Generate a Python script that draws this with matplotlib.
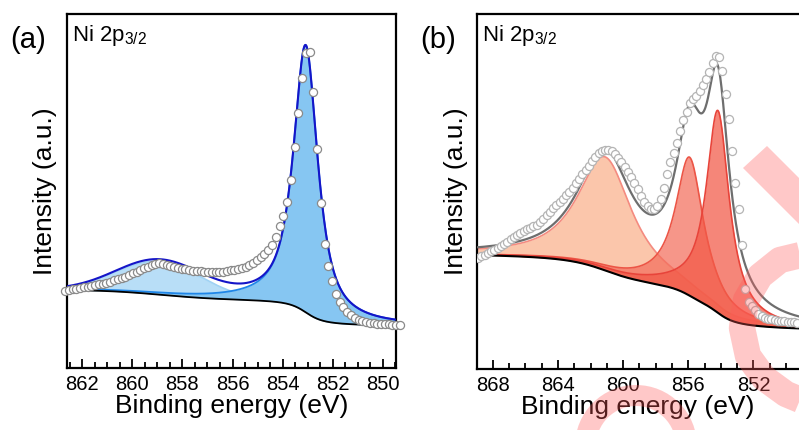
import numpy as np
import matplotlib
matplotlib.use("Agg")
import matplotlib.pyplot as plt
from matplotlib.patches import Wedge, Polygon
from matplotlib.lines import Line2D
from matplotlib.transforms import IdentityTransform

plt.rcParams['font.family'] = ['Liberation Sans', 'DejaVu Sans']
plt.rcParams['mathtext.fontset'] = 'custom'
plt.rcParams['mathtext.rm'] = 'Liberation Sans'
plt.rcParams['mathtext.it'] = 'Liberation Sans:italic'

# ---- panel (a): measured Ni 2p3/2 spectrum ----
be_a = np.linspace(862.675, 849.325, 90)
counts_a = [21.8, 22.0, 22.2, 22.4, 22.6, 22.8, 23.0, 23.1, 23.4, 23.6,
            23.8, 24.1, 24.4, 24.8, 25.1, 25.5, 25.8, 26.2, 26.7, 27.2,
            27.7, 28.2, 28.6, 29.0, 29.3, 29.6, 29.5, 29.2, 28.9, 28.6,
            28.3, 28.1, 27.9, 27.7, 27.5, 27.4, 27.3, 27.2, 27.2, 27.1,
            27.1, 27.1, 27.2, 27.3, 27.6, 27.8, 28.0, 28.3, 28.6, 29.1,
            29.7, 30.4, 31.3, 32.3, 33.4, 34.8, 37.0, 40.0, 43.0, 46.8,
            53.0, 62.5, 72.0, 82.0, 88.9, 89.2, 78.0, 62.0, 46.5, 35.0,
            28.8, 24.5, 20.8, 18.6, 17.2, 15.9, 14.9, 14.1, 13.6, 13.2,
            12.9, 12.7, 12.6, 12.5, 12.4, 12.3, 12.3, 12.2, 12.2, 12.1]

# fitted peaks: (centre eV, height, FWHM eV, lorentz fraction)
main_a = (853.08, 75.5, 1.16, 0.85)
sat_a = (858.9, 9.4, 4.0, 0.0)
bg_a = (12.0, 22.0)          # shirley end levels (low BE, high BE)

# ---- panel (b) ----
be_b = np.linspace(868.9, 849.3, 99)
counts_b = [31.4, 31.8, 32.2, 32.6, 33.1, 33.6, 34.1, 34.6, 35.2, 35.8,
            36.5, 37.3, 37.8, 38.4, 38.9, 39.3, 39.8, 40.2, 40.6, 41.4,
            42.3, 43.3, 44.3, 45.3, 46.2, 47.1, 48.0, 49.0, 49.9, 51.1,
            52.3, 53.6, 54.9, 56.0, 57.2, 58.5, 59.8, 60.8, 61.5, 61.8,
            61.7, 61.3, 60.5, 59.4, 58.2, 56.8, 55.4, 54.0, 52.3, 50.6,
            48.8, 47.0, 45.8, 45.1, 45.2, 46.0, 47.8, 51.0, 55.0, 58.3,
            60.8, 63.6, 67.0, 70.0, 72.5, 74.8, 76.0, 76.8, 78.2, 80.0,
            81.6, 83.6, 86.1, 88.2, 87.8, 84.0, 77.5, 70.5, 61.5, 52.5,
            45.0, 35.0, 22.5, 19.0, 17.7, 16.5, 15.4, 14.9, 14.5, 14.2,
            14.0, 13.8, 13.6, 13.5, 13.4, 13.3, 13.2, 13.1, 13.0]

p1_b = (854.18, 57.0, 1.72, 1.0)
p2_b = (855.92, 39.0, 2.1, 1.0)
p3_b = (861.1, 32.0, 4.0, 0.9)
bg_b = (11.4, 32.1)


def pseudo_voigt(x, centre, height, fwhm, eta):
    d = (x - centre) / fwhm
    lor = 1.0 / (1.0 + 4.0 * d**2)
    gau = np.exp(-4.0 * np.log(2) * d**2)
    return height * (eta * lor + (1 - eta) * gau)


def shirley(x, comps, levels):
    # x runs from high to low binding energy
    total = np.sum(comps, axis=0)
    cum = np.cumsum(total[::-1])[::-1]
    cum = cum - cum[-1]
    lo, hi = levels
    return lo + (hi - lo) * cum / cum[0]


def style_axes(ax, xlim, majors, minor):
    ax.set_yticks([])
    ax.set_xticks(majors)
    ax.set_xticks(np.arange(848, 870.01, minor), minor=True)
    ax.set_xlim(*xlim)
    ax.set_ylim(0, 100)
    ax.tick_params(axis='x', which='major', direction='in', length=6.5, width=1.3,
                   labelsize=14.5, pad=5)
    ax.tick_params(axis='x', which='minor', direction='in', length=4, width=1.3)
    for s in ax.spines.values():
        s.set_linewidth(1.6)
    ax.set_xlabel('Binding energy (eV)', fontsize=19, labelpad=0)
    ax.set_ylabel('Intensity (a.u.)', fontsize=19, labelpad=7)
    ax.text(0.015, 0.975, r'Ni 2p$_{\mathrm{3/2}}$', transform=ax.transAxes,
            fontsize=16, va='top', ha='left')


fig = plt.figure(figsize=(7.99, 4.30), dpi=100)

# ---------- (a) ----------
ax1 = fig.add_axes([67 / 799, 62 / 430, 329 / 799, 354 / 430])
xa = np.linspace(862.9, 849.2, 700)
m = pseudo_voigt(xa, *main_a)
s = pseudo_voigt(xa, *sat_a)
b = shirley(xa, [m, s], bg_a)
ax1.fill_between(xa, b, b + s, color='#b8def7', lw=0, zorder=1)
ax1.plot(xa, b + s, color='#9fd2f4', lw=1.2, zorder=1.1)
ax1.fill_between(xa, b, b + m, color='#86c6f2', lw=0, zorder=2)
ax1.plot(xa, b + m, color='#1f86e8', lw=1.3, zorder=2.1)
ax1.plot(xa, b, color='black', lw=1.3, zorder=3)
ax1.plot(xa, b + m + s, color='#1515c8', lw=1.5, zorder=4)
ax1.scatter(be_a, counts_a, s=34, facecolor='white', edgecolor='#8a8a8a',
            linewidth=0.9, zorder=5, clip_on=False)
style_axes(ax1, (862.6, 849.48), np.arange(850, 863, 2), 0.5)
fig.text(10 / 799, 1 - 40 / 430, '(a)', fontsize=21, va='center', ha='left')

# ---------- (b) ----------
ax2 = fig.add_axes([477.3 / 799, 61 / 430, (799 - 477.3) / 799, 355 / 430])
xb = np.linspace(869.2, 849.0, 800)
c1 = pseudo_voigt(xb, *p1_b)
c2 = pseudo_voigt(xb, *p2_b)
c3 = pseudo_voigt(xb, *p3_b)
bb = shirley(xb, [c1, c2, c3], bg_b)
# each component: fill then outline, later ones laid over earlier ones
ax2.fill_between(xb, bb, bb + c3, color='#fbc6ab', lw=0, zorder=1)
ax2.plot(xb, bb + c3, color='#f48b80', lw=1.2, zorder=1.1)
ax2.fill_between(xb, bb, bb + c2, color='#f36e5c', alpha=0.72, lw=0, zorder=1.2)
ax2.plot(xb, bb + c2, color='#ec5546', lw=1.2, zorder=1.3)
ax2.fill_between(xb, bb, bb + c1, color='#f25846', alpha=0.72, lw=0, zorder=1.4)
ax2.plot(xb, bb + c1, color='#e8443a', lw=1.2, zorder=1.5)
ax2.plot(xb, bb, color='black', lw=1.5, zorder=3)
ax2.plot(xb, bb + c1 + c2 + c3, color='#6e6e6e', lw=1.6, zorder=4)
ax2.scatter(be_b, counts_b, s=34, facecolor='white', edgecolor='#b4b4b4',
            linewidth=0.9, zorder=5)
style_axes(ax2, (868.95, 849.2), np.arange(852, 869, 4), 1)
ax2.spines['right'].set_visible(False)
fig.text(420 / 799, 1 - 40 / 430, '(b)', fontsize=21, va='center', ha='left')

# pink logo stamp over the lower right corner (pixel coordinates, y up)
px = IdentityTransform()
pink = dict(facecolor='#ff5a5a', alpha=0.33, edgecolor='none',
            transform=px, zorder=20)
fig.add_artist(Polygon([(743, 430 - 168), (767, 430 - 146), (820, 430 - 199),
                        (820, 430 - 245)], closed=True, **pink))
hook_x = [805, 780, 760, 746, 742, 748, 764, 786, 810]
hook_y = [430 - y for y in [254, 260, 276, 300, 328, 356, 378, 394, 404]]
fig.add_artist(Line2D(hook_x, hook_y, lw=19, color='#ff5a5a', alpha=0.33,
                      solid_capstyle='butt', solid_joinstyle='round',
                      transform=px, zorder=20))
fig.add_artist(Wedge((636, -16), 61, 0, 180, width=21, **pink))

fig.savefig('out.png', dpi=100)
